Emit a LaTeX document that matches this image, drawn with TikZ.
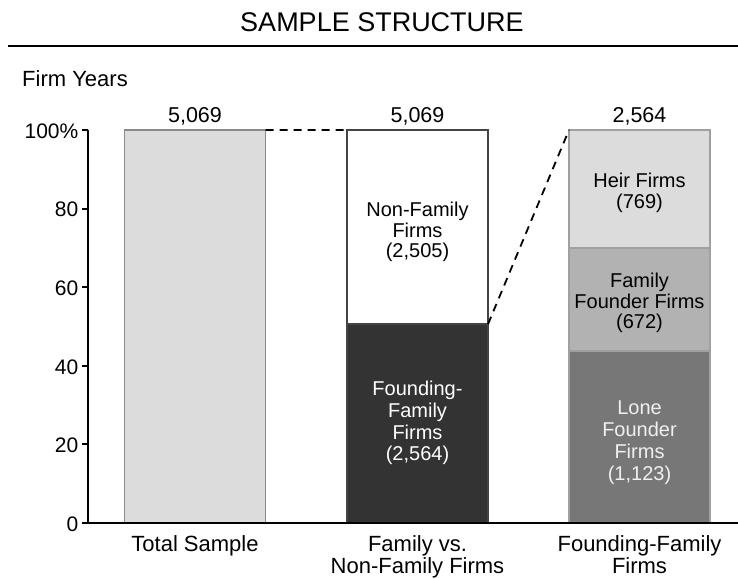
\documentclass[tikz,border=0pt]{standalone}
\usepackage{fontspec}
\setmainfont{Liberation Sans}
\usetikzlibrary{calc}
\definecolor{lightbar}{HTML}{DCDCDC}
\definecolor{midbar}{HTML}{B2B2B2}
\definecolor{darkbar}{HTML}{777777}
\definecolor{blackbar}{HTML}{333333}
\definecolor{edgegray}{HTML}{8A8A8A}
\definecolor{edgedark}{HTML}{444444}
\definecolor{edgelight}{HTML}{A0A0A0}
\begin{document}
\begin{tikzpicture}[x=1pt,y=-1pt,
  txt/.style={font=\fontsize{21.5}{22}\selectfont, inner sep=0pt, align=center},
  ticklab/.style={font=\fontsize{21}{22}\selectfont, inner sep=0pt, anchor=east},
  cat/.style={font=\fontsize{22}{22}\selectfont, inner sep=0pt, align=center, anchor=north},
  seg/.style={rectangle, inner sep=0pt, outer sep=0pt, minimum width=141pt, anchor=south west, line width=1.5pt},
  inlab/.style={inner sep=0pt, align=center, anchor=center},
  axisline/.style={line width=2.5pt},
  link/.style={line width=1.8pt, dash pattern=on 8pt off 6pt}]
\useasboundingbox (0,0) rectangle (738,578);
% title
\node[font=\fontsize{27}{27}\selectfont, inner sep=0pt, anchor=base] (title) at (382,31.5) {SAMPLE STRUCTURE};
\coordinate (tl) at (8,46);
\coordinate (tr) at (738,46);
\draw[line width=2pt] (tl) -- (tr);
\node[font=\fontsize{22}{22}\selectfont, inner sep=0pt, anchor=base west] (fy) at (22,86.5) {Firm Years};
% bars
\node[seg, draw=edgegray, fill=lightbar, minimum height=393pt] (total) at (124.5,523) {};
\node[seg, draw=edgedark, fill=blackbar, minimum height=198.8pt] (founding) at (347,523) {};
\node[seg, draw=edgedark, fill=white, minimum height=194.2pt] (nonfam) at (founding.north west) {};
\node[seg, draw=edgelight, fill=darkbar, minimum height=172.1pt] (lone) at (569,523) {};
\node[seg, draw=edgelight, fill=midbar, minimum height=103pt] (famfound) at (lone.north west) {};
\node[seg, draw=edgelight, fill=lightbar, minimum height=117.9pt] (heir) at (famfound.north west) {};
% segment labels
\node[inlab, font=\fontsize{20}{20.5}\selectfont] (lnonfam) at ($(nonfam.center)+(0,5)$) {Non-Family\\Firms\\(2,505)};
\node[inlab, font=\fontsize{20}{21.7}\selectfont, text=white] (lfounding) at ($(founding.center)+(0,-0.5)$) {Founding-\\Family\\Firms\\(2,564)};
\node[inlab, font=\fontsize{20}{20.5}\selectfont] (lheir) at ($(heir.center)+(0,4)$) {Heir Firms\\(769)};
\node[inlab, font=\fontsize{20}{20.5}\selectfont] (lfamfound) at ($(famfound.center)+(0,3.5)$) {Family\\Founder Firms\\(672)};
\node[inlab, font=\fontsize{20}{22}\selectfont, text=white!94!black] (llone) at ($(lone.center)+(0,6)$) {Lone\\Founder\\Firms\\(1,123)};
% bar totals
\node[txt, anchor=base] (n1) at ($(total.north)+(0,-8)$) {5,069};
\node[txt, anchor=base] (n2) at ($(nonfam.north)+(0,-8)$) {5,069};
\node[txt, anchor=base] (n3) at ($(heir.north)+(0,-8)$) {2,564};
% connectors
\draw[link] (total.north east) -- (nonfam.north west);
\draw[link] (founding.north east) -- (heir.north west);
% axes
\coordinate (o) at (88,523);
\coordinate (ytop) at (88,130);
\coordinate (xend) at (738,523);
\draw[axisline] (ytop) -- (o) -- (xend);
\foreach \v/\lab in {0/0,20/20,40/40,60/60,80/80,100/100\%} {
  \draw[line width=2pt] (82,523-3.93*\v) -- (88,523-3.93*\v);
  \node[ticklab] at (78.5,524-3.93*\v) {\lab};
}
% category labels
\node[cat] (c1) at ($(total.south)+(0,12)$) {Total Sample};
\node[cat] (c2) at ($(founding.south)+(0,12)$) {Family vs.\\Non-Family Firms};
\node[cat] (c3) at ($(lone.south)+(0,12)$) {Founding-Family\\Firms};
\end{tikzpicture}
\end{document}
